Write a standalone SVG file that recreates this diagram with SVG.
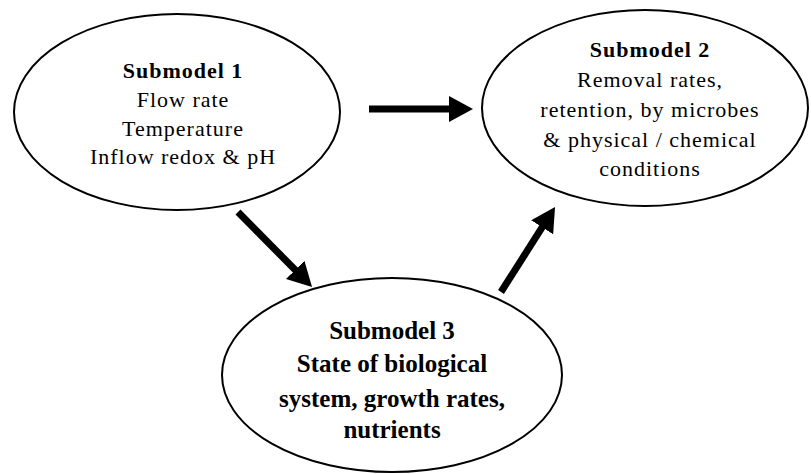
<svg xmlns="http://www.w3.org/2000/svg" width="811" height="474" viewBox="0 0 811 474">
<style>
.node ellipse{fill:#fff;stroke:#000;stroke-width:2}
.t{font-family:"Liberation Serif","Times New Roman",serif;font-size:22px;letter-spacing:1px;text-anchor:middle;fill:#000}
.b{font-weight:bold}
.t3{font-family:"Liberation Serif","Times New Roman",serif;font-size:25px;font-weight:bold;text-anchor:middle;fill:#000}
.conn line{stroke:#000;stroke-width:7}
</style>
<defs>
<marker id="ah" viewBox="0 0 24 26" refX="9" refY="13" markerWidth="24" markerHeight="26" markerUnits="userSpaceOnUse" orient="auto">
<path d="M0,0 L24,13 L0,26 z" fill="#000"/>
</marker>
</defs>
<rect width="811" height="474" fill="#fff"/>
<g id="submodel1" class="node">
<ellipse cx="177" cy="112" rx="163" ry="98"/>
<text class="t b" x="183" y="78">Submodel 1</text>
<text class="t" x="183" y="107">Flow rate</text>
<text class="t" x="183" y="136">Temperature</text>
<text class="t" x="183" y="164">Inflow redox &amp; pH</text>
</g>
<g id="submodel2" class="node">
<ellipse cx="645" cy="108" rx="163" ry="98"/>
<text class="t b" x="650" y="57">Submodel 2</text>
<text class="t" x="650" y="87">Removal rates,</text>
<text class="t" x="650" y="117">retention, by microbes</text>
<text class="t" x="650" y="147">&amp; physical / chemical</text>
<text class="t" x="650" y="176">conditions</text>
</g>
<g id="submodel3" class="node">
<ellipse cx="392" cy="375" rx="170" ry="97"/>
<text class="t3" x="392" y="339">Submodel 3</text>
<text class="t3" x="392" y="372">State of biological</text>
<text class="t3" x="392" y="407">system, growth rates,</text>
<text class="t3" x="392" y="438">nutrients</text>
</g>
<g id="connectors" class="conn">
<line x1="369" y1="109" x2="458" y2="109" marker-end="url(#ah)"/>
<line x1="238" y1="212" x2="301.5" y2="276.3" marker-end="url(#ah)"/>
<line x1="501" y1="292" x2="547" y2="219.7" marker-end="url(#ah)"/>
</g>
</svg>
